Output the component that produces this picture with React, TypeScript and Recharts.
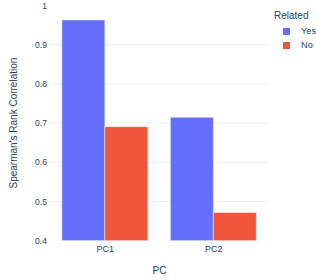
// Spearman rank correlation per PC, split by "Related"
import { BarChart, Bar, XAxis, YAxis, CartesianGrid, Label } from 'recharts'

const categories = ['PC1', 'PC2']
const yesValues = [0.963, 0.715]
const noValues = [0.691, 0.472]
const yTicks = [0.4, 0.5, 0.6, 0.7, 0.8, 0.9, 1]
const legendItems = ['Yes', 'No']

const FONT = '"Liberation Sans", Arial, sans-serif'
const TEXT = '#2a3f5f'
const BLUE = '#636efa'
const RED = '#ef553b'
const seriesColors = [BLUE, RED]

const chartData = categories.map((pc, i) => ({
  pc,
  Yes: yesValues[i],
  No: noValues[i],
}))

// 범례 (plotly 스타일) - 차트 밖에 따로 둠
const RelatedLegend = () => (
  <div style={{ position: 'absolute', left: 270, top: 10, fontFamily: FONT, color: TEXT, whiteSpace: 'nowrap' }}>
    <div style={{ fontSize: 10, lineHeight: '12px', marginLeft: 4 }}>Related</div>
    <div style={{ marginTop: 2 }}>
      {legendItems.map((name, i) => (
        <div key={name} style={{ display: 'flex', alignItems: 'center', height: 14, fontSize: 9.2 }}>
          <span style={{ display: 'inline-block', width: 7, height: 7, background: seriesColors[i], marginLeft: 13, marginRight: 11 }} />
          <span>{name}</span>
        </div>
      ))}
    </div>
  </div>
)

export default function App() {
  return (
    <div style={{ position: 'absolute', left: 0, top: 0, width: 316, height: 280, background: '#fff', overflow: 'hidden' }}>
      <BarChart
        width={316}
        height={280}
        data={chartData}
        margin={{ top: 5.5, right: 48, bottom: 0, left: 0 }}
        barCategoryGap="10%"
        barGap={0}
      >
        <CartesianGrid vertical={false} stroke="#ebf0f8" horizontalValues={[0.5, 0.6, 0.7, 0.8, 0.9]} />
        <XAxis
          dataKey="pc"
          height={39.3}
          axisLine={false}
          tickLine={false}
          tickSize={0}
          tickMargin={4.5}
          tick={{ fill: TEXT, fontSize: 9, fontFamily: FONT }}
        >
          <Label value="PC" position="insideBottom" offset={6} style={{ fill: TEXT, fontSize: 10, fontFamily: FONT }} />
        </XAxis>
        <YAxis
          width={51}
          domain={[0.4, 1]}
          ticks={yTicks}
          allowDataOverflow
          axisLine={false}
          tickLine={false}
          tickSize={0}
          tickMargin={4}
          tick={{ fill: TEXT, fontSize: 8.6, fontFamily: FONT }}
        >
          <Label
            value="Spearman's Rank Correlation"
            angle={-90}
            position="insideLeft"
            offset={13}
            style={{ textAnchor: 'middle', fill: TEXT, fontSize: 10, fontFamily: FONT }}
          />
        </YAxis>
        <Bar dataKey="Yes" fill={BLUE} stroke="#fff" strokeWidth={0.5} isAnimationActive={false} />
        <Bar dataKey="No" fill={RED} stroke="#fff" strokeWidth={0.5} isAnimationActive={false} />
      </BarChart>
      <RelatedLegend />
    </div>
  )
}
